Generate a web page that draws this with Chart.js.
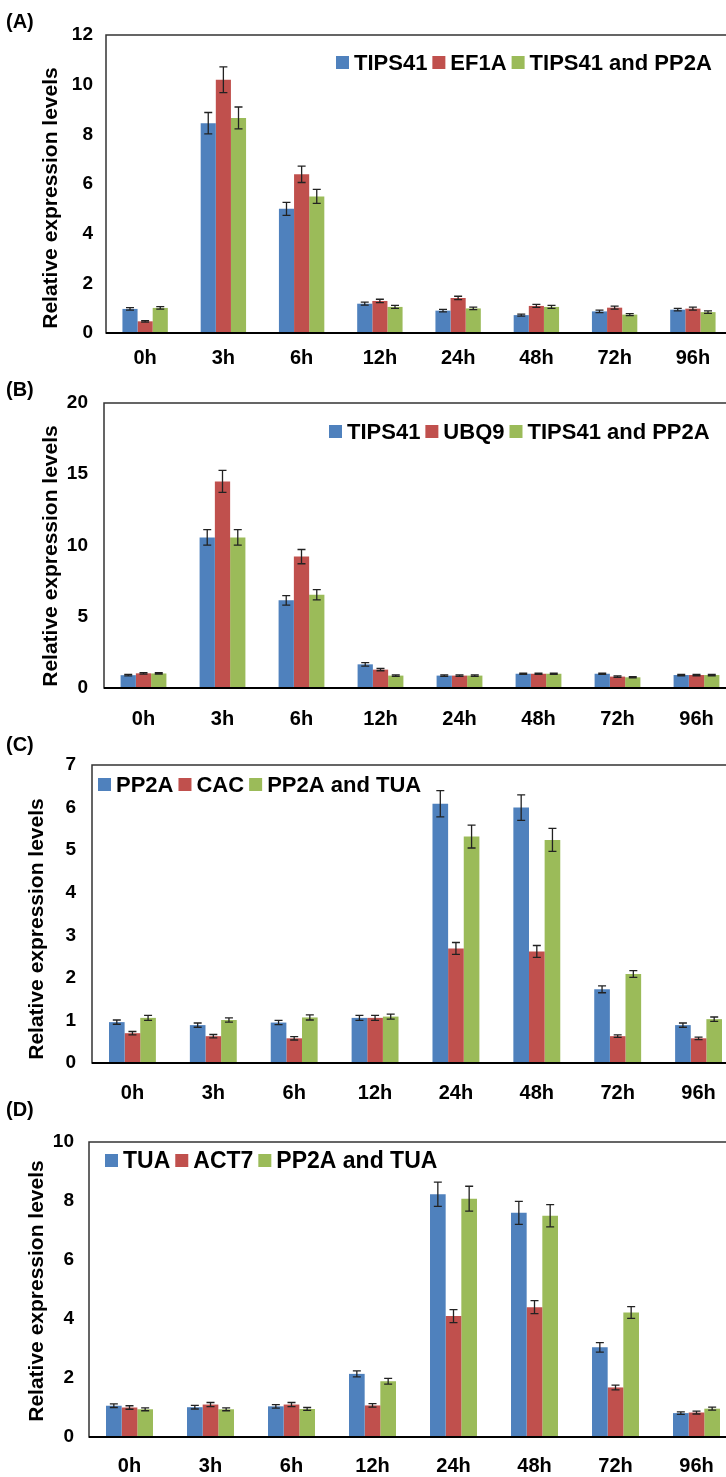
<!DOCTYPE html>
<html>
<head>
<meta charset="utf-8">
<script src="https://cdn.jsdelivr.net/npm/chart.js@4.4.0/dist/chart.umd.min.js"></script>
<style>
  body { margin: 0; width: 726px; height: 1477px; overflow: hidden; background: #fff; position: relative;
         font-family: "Liberation Sans", Arial, sans-serif; }
  canvas { position: absolute; left: 0; }
  .tag { position: absolute; left: 6px; font-size: 20px; font-weight: bold; line-height: 20px; z-index: 2; }
</style>
</head>
<body>
<div class="tag" style="top:11px">(A)</div>
<div class="tag" style="top:379px">(B)</div>
<div class="tag" style="top:734px">(C)</div>
<div class="tag" style="top:1099px">(D)</div>
<canvas id="chartA"></canvas>
<canvas id="chartB"></canvas>
<canvas id="chartC"></canvas>
<canvas id="chartD"></canvas>
<script>
// time points (shared by the 4 panels)
const timeLabels = ['0h', '3h', '6h', '12h', '24h', '48h', '72h', '96h'];
const yTitle = 'Relative expression levels';

// (A)
const namesA = ['TIPS41', 'EF1A', 'TIPS41 and PP2A'];
const blueA  = [0.97, 8.45, 5.00, 1.18, 0.90, 0.72, 0.87, 0.94];
const redA   = [0.47, 10.2, 6.39, 1.29, 1.41, 1.09, 1.02, 0.98];
const greenA = [1.01, 8.66, 5.50, 1.05, 0.99, 1.05, 0.74, 0.84];
const errBlueA  = [0.05, 0.43, 0.26, 0.06, 0.05, 0.04, 0.05, 0.05];
const errRedA   = [0.03, 0.52, 0.33, 0.07, 0.07, 0.06, 0.06, 0.06];
const errGreenA = [0.05, 0.44, 0.28, 0.06, 0.05, 0.06, 0.04, 0.05];

// (B)
const namesB = ['TIPS41', 'UBQ9', 'TIPS41 and PP2A'];
const blueB  = [0.90, 10.57, 6.15, 1.66, 0.87, 1.00, 1.00, 0.91];
const redB   = [1.03, 14.50, 9.22, 1.29, 0.87, 1.00, 0.80, 0.91];
const greenB = [1.02, 10.57, 6.55, 0.87, 0.87, 1.00, 0.75, 0.91];
const errBlueB  = [0.05, 0.55, 0.33, 0.12, 0.05, 0.05, 0.05, 0.05];
const errRedB   = [0.05, 0.77, 0.50, 0.08, 0.05, 0.05, 0.05, 0.05];
const errGreenB = [0.05, 0.55, 0.36, 0.05, 0.05, 0.05, 0.04, 0.05];

// (C)
const namesC = ['PP2A', 'CAC', 'PP2A and TUA'];
const blueC  = [0.96, 0.89, 0.95, 1.06, 6.09, 6.00, 1.73, 0.89];
const redC   = [0.70, 0.63, 0.58, 1.06, 2.69, 2.62, 0.63, 0.58];
const greenC = [1.06, 1.01, 1.07, 1.09, 5.32, 5.24, 2.09, 1.03];
const errBlueC  = [0.05, 0.05, 0.05, 0.06, 0.31, 0.30, 0.08, 0.05];
const errRedC   = [0.04, 0.04, 0.04, 0.06, 0.14, 0.14, 0.03, 0.03];
const errGreenC = [0.06, 0.05, 0.06, 0.06, 0.27, 0.27, 0.08, 0.05];

// (D)
const namesD = ['TUA', 'ACT7', 'PP2A and TUA'];
const blueD  = [1.06, 1.01, 1.04, 2.14, 8.23, 7.60, 3.04, 0.81];
const redD   = [1.00, 1.10, 1.10, 1.07, 4.10, 4.40, 1.68, 0.83];
const greenD = [0.94, 0.94, 0.95, 1.89, 8.08, 7.50, 4.22, 0.96];
const errBlueD  = [0.06, 0.06, 0.06, 0.10, 0.41, 0.39, 0.16, 0.04];
const errRedD   = [0.06, 0.07, 0.07, 0.06, 0.22, 0.22, 0.08, 0.05];
const errGreenD = [0.05, 0.05, 0.05, 0.10, 0.42, 0.38, 0.20, 0.05];

const colors = ['#4F81BD', '#C0504D', '#9BBB59'];
const FONT = '"Liberation Sans", Arial, sans-serif';

// error bars, drawn through the y scale
const errorBars = {
  id: 'errorBars',
  afterDatasetsDraw(chart) {
    const ctx = chart.ctx, y = chart.scales.y;
    ctx.save();
    ctx.strokeStyle = '#222';
    ctx.lineWidth = 1.3;
    chart.data.datasets.forEach((ds, i) => {
      chart.getDatasetMeta(i).data.forEach((bar, j) => {
        const v = ds.data[j], e = ds.errors[j];
        const top = y.getPixelForValue(v + e), bot = y.getPixelForValue(v - e);
        ctx.beginPath();
        ctx.moveTo(bar.x, top); ctx.lineTo(bar.x, bot);
        ctx.moveTo(bar.x - 4, top); ctx.lineTo(bar.x + 4, top);
        ctx.moveTo(bar.x - 4, bot); ctx.lineTo(bar.x + 4, bot);
        ctx.stroke();
      });
    });
    ctx.restore();
  }
};

// plot frame + heavy x axis line + rotated y title
const frame = {
  id: 'frame',
  afterDraw(chart, args, opts) {
    const {ctx, chartArea: a} = chart;
    ctx.save();
    ctx.strokeStyle = '#333';
    ctx.lineWidth = 1.5;
    ctx.strokeRect(a.left, a.top, a.right - a.left, a.bottom - a.top);
    ctx.strokeStyle = '#000';
    ctx.lineWidth = 2.2;
    ctx.beginPath();
    ctx.moveTo(a.left, a.bottom); ctx.lineTo(a.right, a.bottom);
    ctx.stroke();
    // y axis title
    ctx.translate(opts.titleX, opts.titleY);
    ctx.rotate(-Math.PI / 2);
    ctx.font = 'bold 21px ' + FONT;
    ctx.fillStyle = '#000';
    ctx.textAlign = 'center';
    ctx.textBaseline = 'middle';
    ctx.fillText(yTitle, 0, 0);
    ctx.restore();
  }
};

// legend inside the plot box (Excel style)
const boxLegend = {
  id: 'boxLegend',
  afterDraw(chart, args, opts) {
    const ctx = chart.ctx;
    let x = opts.x;
    ctx.save();
    ctx.font = 'bold ' + opts.size + 'px ' + FONT;
    ctx.textBaseline = 'middle';
    chart.data.datasets.forEach(ds => {
      ctx.fillStyle = ds.backgroundColor;
      ctx.fillRect(x, opts.y - 7, 13, 13);
      x += 18;
      ctx.fillStyle = '#000';
      ctx.fillText(ds.label, x, opts.y + 1);
      x += ctx.measureText(ds.label).width + 5;
    });
    ctx.restore();
  }
};

function makePanel(p) {
  const canvas = document.getElementById(p.id);
  canvas.width = 760;
  canvas.height = p.h;
  canvas.style.top = p.top + 'px';
  const datasets = p.names.map((name, i) => ({
    label: name,
    data: p.values[i],
    errors: p.errors[i],
    backgroundColor: colors[i],
    categoryPercentage: 0.58,
    barPercentage: 1
  }));
  new Chart(canvas, {
    type: 'bar',
    data: { labels: timeLabels, datasets },
    options: {
      responsive: false,
      animation: false,
      layout: { padding: { top: p.padTop, right: 760 - p.right, left: 0, bottom: 0 } },
      plugins: {
        legend: { display: false },
        tooltip: { enabled: false },
        boxLegend: { x: p.legX, y: p.legY, size: p.legSize },
        frame: { titleX: p.titleX, titleY: p.titleY }
      },
      scales: {
        x: {
          grid: { display: false, drawTicks: false },
          border: { display: false },
          ticks: { color: '#000', font: { family: FONT, size: 20, weight: 'bold' }, padding: p.xPad, maxRotation: 0 },
          afterFit: s => { s.height = p.h - p.bottom; }
        },
        y: {
          min: 0, max: p.max,
          grid: { display: false, drawTicks: false },
          border: { display: false },
          ticks: { stepSize: p.step, color: '#000', font: { family: FONT, size: 19, weight: 'bold' }, padding: p.yPad },
          afterFit: s => { s.width = p.left; }
        }
      }
    },
    plugins: [errorBars, frame, boxLegend]
  });
}

// positions inside each canvas (canvas-local y)
makePanel({ id: 'chartA', top: 0, h: 372, padTop: 35, bottom: 333, left: 106, right: 732, max: 12, step: 2,
  names: namesA, values: [blueA, redA, greenA], errors: [errBlueA, errRedA, errGreenA],
  legX: 336, legY: 63, legSize: 22, xPad: 13, yPad: 13, titleX: 51, titleY: 198 });
makePanel({ id: 'chartB', top: 372, h: 363, padTop: 31, bottom: 316, left: 104, right: 736, max: 20, step: 5,
  names: namesB, values: [blueB, redB, greenB], errors: [errBlueB, errRedB, errGreenB],
  legX: 329, legY: 60, legSize: 22, xPad: 19, yPad: 16, titleX: 51, titleY: 184 });
makePanel({ id: 'chartC', top: 735, h: 375, padTop: 30, bottom: 328, left: 92, right: 739, max: 7, step: 1,
  names: namesC, values: [blueC, redC, greenC], errors: [errBlueC, errRedC, errGreenC],
  legX: 98, legY: 50, legSize: 22, xPad: 18, yPad: 16, titleX: 37, titleY: 194 });
makePanel({ id: 'chartD', top: 1110, h: 367, padTop: 32, bottom: 327, left: 89, right: 737, max: 10, step: 2,
  names: namesD, values: [blueD, redD, greenD], errors: [errBlueD, errRedD, errGreenD],
  legX: 105, legY: 51, legSize: 23, xPad: 17, yPad: 15, titleX: 37, titleY: 181 });
</script>
</body>
</html>
